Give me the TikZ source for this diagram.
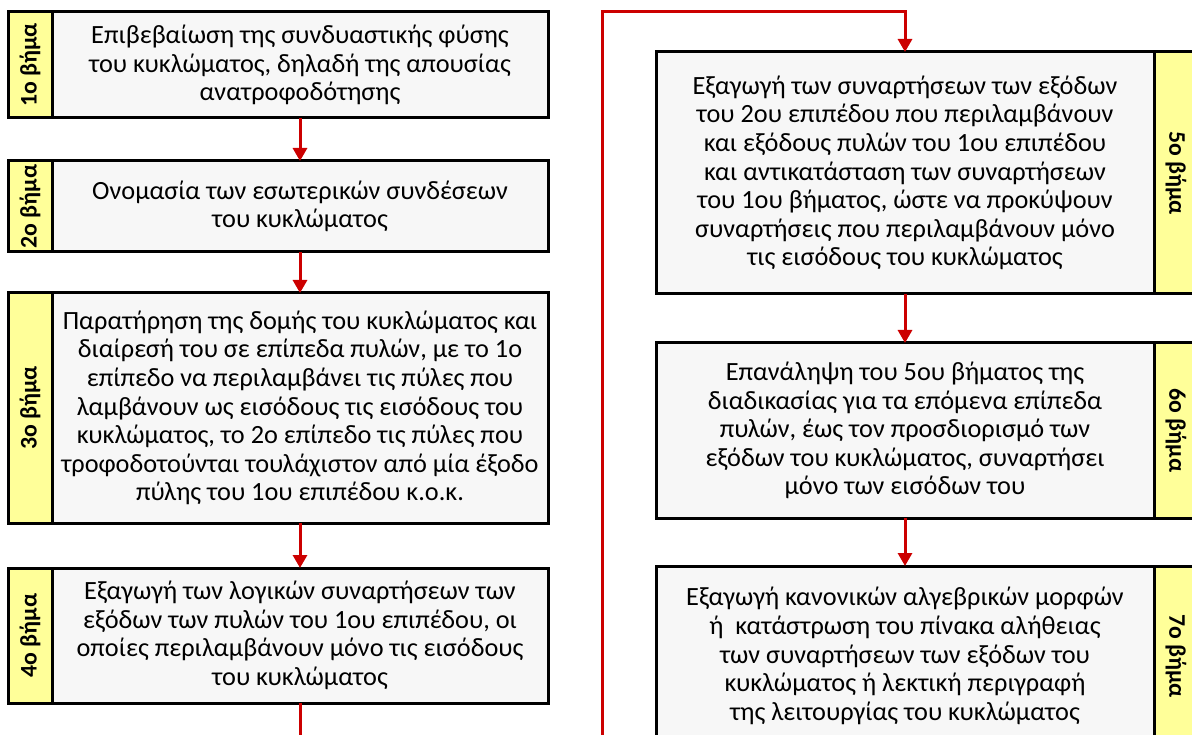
\documentclass[tikz,border=0pt]{standalone}
\usepackage{fontspec}
\setmainfont{Carlito}
\usepackage{xcolor}
\usepackage{tikz}
\usetikzlibrary{arrows.meta}
\definecolor{boxgray}{RGB}{247,247,247}
\definecolor{tagyellow}{RGB}{255,255,153}
\definecolor{flowred}{RGB}{204,0,0}

\begin{document}
\begin{tikzpicture}[x=1pt,y=-1pt,
			stepbox/.style={draw,line width=3pt,fill=boxgray,align=center,inner sep=0pt,outer sep=0pt,font=\fontsize{26.3}{28.6}\selectfont},
			tagbox/.style={draw,line width=3pt,fill=tagyellow,minimum width=44pt,inner sep=0pt,outer sep=0pt,font=\fontsize{23.8}{28.6}\selectfont\bfseries},
			flow/.style={flowred,line width=3pt,-{Triangle[width=14pt,length=13pt]}}]
			\useasboundingbox (0,0) rectangle (1192,735);
			\clip (0,0) rectangle (1192,735);
			
			% left column
			\node[stepbox,minimum width=496pt,minimum height=106pt] (b1) at (300,65) {Επιβεβαίωση της συνδυαστικής φύσης\\του κυκλώματος, δηλαδή της απουσίας\\ανατροφοδότησης};
			\node[stepbox,minimum width=496pt,minimum height=91pt] (b2) at (300,206.5) {Ονομασία των εσωτερικών συνδέσεων\\του κυκλώματος};
			\node[stepbox,minimum width=496pt,minimum height=230pt] (b3) at (300,408) {Παρατήρηση της δομής του κυκλώματος και\\διαίρεσή του σε επίπεδα πυλών, με το 1ο\\επίπεδο να περιλαμβάνει τις πύλες που\\λαμβάνουν ως εισόδους τις εισόδους του\\κυκλώματος, το 2ο επίπεδο τις πύλες που\\τροφοδοτούνται τουλάχιστον από μία έξοδο\\πύλης του 1ου επιπέδου κ.ο.κ.};
			\node[stepbox,minimum width=496pt,minimum height=135pt] (b4) at (300,635.5) {Εξαγωγή των λογικών συναρτήσεων των\\εξόδων των πυλών του 1ου επιπέδου, οι\\οποίες περιλαμβάνουν μόνο τις εισόδους\\του κυκλώματος};
			
			\node[tagbox,minimum height=106pt,anchor=east] (t1) at (b1.west) {\rotatebox{90}{1ο βήμα}};
			\node[tagbox,minimum height=91pt,anchor=east] (t2) at (b2.west) {\rotatebox{90}{2ο βήμα}};
			\node[tagbox,minimum height=230pt,anchor=east] (t3) at (b3.west) {\rotatebox{90}{3ο βήμα}};
			\node[tagbox,minimum height=135pt,anchor=east] (t4) at (b4.west) {\rotatebox{90}{4ο βήμα}};
			
			% right column
			\node[stepbox,minimum width=498pt,minimum height=242pt] (b5) at (905,173) {Εξαγωγή των συναρτήσεων των εξόδων\\του 2ου επιπέδου που περιλαμβάνουν\\και εξόδους πυλών του 1ου επιπέδου\\και αντικατάσταση των συναρτήσεων\\του 1ου βήματος, ώστε να προκύψουν\\συναρτήσεις που περιλαμβάνουν μόνο\\τις εισόδους του κυκλώματος};
			\node[stepbox,minimum width=498pt,minimum height=175pt] (b6) at (905,430.5) {Επανάληψη του 5ου βήματος της\\διαδικασίας για τα επόμενα επίπεδα\\πυλών, έως τον προσδιορισμό των\\εξόδων του κυκλώματος, συναρτήσει\\μόνο των εισόδων του};
			\node[stepbox,minimum width=498pt,minimum height=180pt] (b7) at (905,656) {Εξαγωγή κανονικών αλγεβρικών μορφών\\ή~ κατάστρωση του πίνακα αλήθειας\\των συναρτήσεων των εξόδων του\\κυκλώματος ή λεκτική περιγραφή\\της λειτουργίας του κυκλώματος};
			
			\node[tagbox,minimum height=242pt,anchor=west] (t5) at (b5.east) {\rotatebox{-90}{5ο βήμα}};
			\node[tagbox,minimum height=175pt,anchor=west] (t6) at (b6.east) {\rotatebox{-90}{6ο βήμα}};
			\node[tagbox,minimum height=180pt,anchor=west] (t7) at (b7.east) {\rotatebox{-90}{7ο βήμα}};
			
			% arrows
			\foreach \u/\v in {b1/b2,b2/b3,b3/b4,b5/b6,b6/b7}
				\draw[flow] (\u.south) -- (\v.north);
			
			\coordinate (low) at (602,770);
			\coordinate (high) at (602,12);
			\draw[flow] (b4.south) |- (low) -- (high) -| (b5.north);
		\end{tikzpicture}
\end{document}
